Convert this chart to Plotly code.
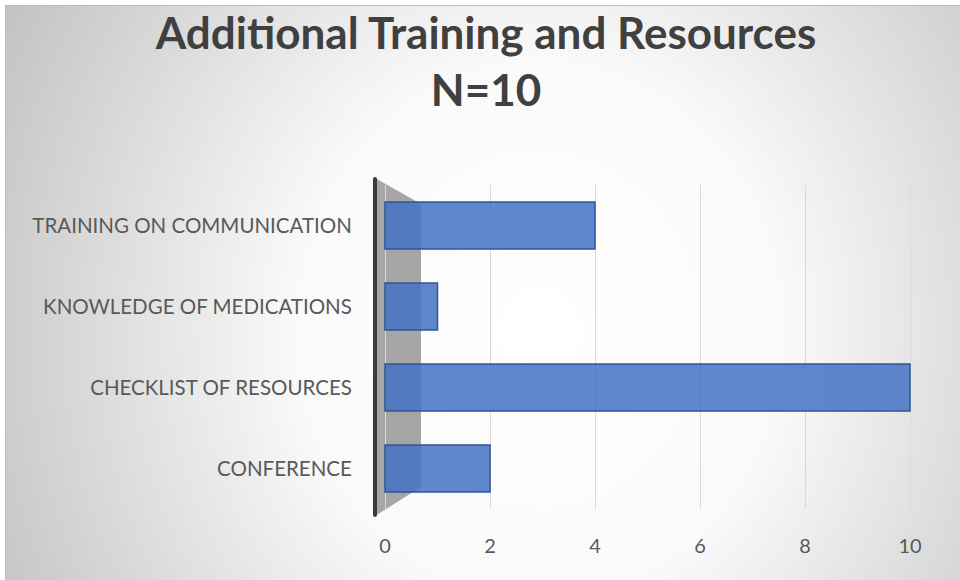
import base64
import plotly.graph_objects as go

# ---- data (top to bottom as shown) ----
categories = ["TRAINING ON COMMUNICATION", "KNOWLEDGE OF MEDICATIONS",
              "CHECKLIST OF RESOURCES", "CONFERENCE"]
counts = [4, 1, 10, 2]
x_ticks = [0, 2, 4, 6, 8, 10]
title_lines = ["Additional Training and Resources", "N=10"]

W, H = 960, 580
ML, MR, MT, MB = 375, 30, 185, 71
PW, PH = W - ML - MR, H - MT - MB
PX_PER_UNIT = 52.5

# background: radial gradient panel with border, plus the grey back wall of the 3D chart
svg = f'''<svg xmlns="http://www.w3.org/2000/svg" width="{W}" height="{H}" viewBox="0 0 {W} {H}" preserveAspectRatio="none">
<defs><radialGradient id="g" gradientUnits="userSpaceOnUse" cx="540" cy="330" r="597"
 gradientTransform="translate(540 330) scale(1 1.11) translate(-540 -330)">
<stop offset="0" stop-color="#ffffff"/><stop offset="0.4" stop-color="#fafafa"/><stop offset="1" stop-color="#c4c4c4"/>
</radialGradient></defs>
<rect x="0" y="0" width="{W}" height="{H}" fill="#ffffff"/>
<rect x="5.5" y="5.5" width="{W}" height="{H}" fill="url(#g)" stroke="#bdbdbd" stroke-width="1"/>
<polygon points="375,178 421,204 421,487 375,516" fill="#a6a6a6"/>
<line x1="375" y1="179" x2="375" y2="515" stroke="#3b3b3b" stroke-width="4" stroke-linecap="round"/>
</svg>'''
src = "data:image/svg+xml;base64," + base64.b64encode(svg.encode()).decode()

fig = go.Figure()
fig.add_trace(go.Bar(
    y=categories, x=counts, orientation="h",
    marker=dict(color="rgba(68,114,196,0.85)",
                line=dict(color="#2F5597", width=1.5)),
    width=0.58, hoverinfo="x+y",
))

fig.update_layout(
    width=W, height=H,
    margin=dict(l=ML, r=MR, t=MT, b=MB, pad=0),
    paper_bgcolor="#ffffff", plot_bgcolor="rgba(0,0,0,0)",
    showlegend=False,
    font=dict(family="Lato, Calibri, sans-serif", color="#595959", size=20),
    title=dict(text="<br>".join(title_lines),
               font=dict(family="Lato, Calibri, sans-serif", size=44, color="#404040", weight="bold"),
               x=486 / W, xanchor="center", xref="container",
               y=1 - 49 / H, yanchor="top", yref="container"),
    images=[dict(source=src, xref="paper", yref="paper",
                 x=-ML / PW, y=1 + MT / PH, sizex=W / PW, sizey=H / PH,
                 xanchor="left", yanchor="top", sizing="stretch", layer="below")],
)
fig.update_xaxes(range=[-10 / PX_PER_UNIT, (PW - 10) / PX_PER_UNIT],
                 tickvals=x_ticks, showgrid=True, gridcolor="#d9d9d9", gridwidth=1,
                 zeroline=False, showline=False,
                 ticks="outside", ticklen=19, tickcolor="rgba(0,0,0,0)",
                 tickfont=dict(size=20, color="#595959"))
fig.update_yaxes(autorange="reversed", showgrid=False, zeroline=False, showline=False,
                 ticks="outside", ticklen=18, tickcolor="rgba(0,0,0,0)",
                 tickfont=dict(size=20.5, color="#595959"))

fig.write_html("out.html", config={"displayModeBar": False},
               post_script="document.body.style.margin='0';")
